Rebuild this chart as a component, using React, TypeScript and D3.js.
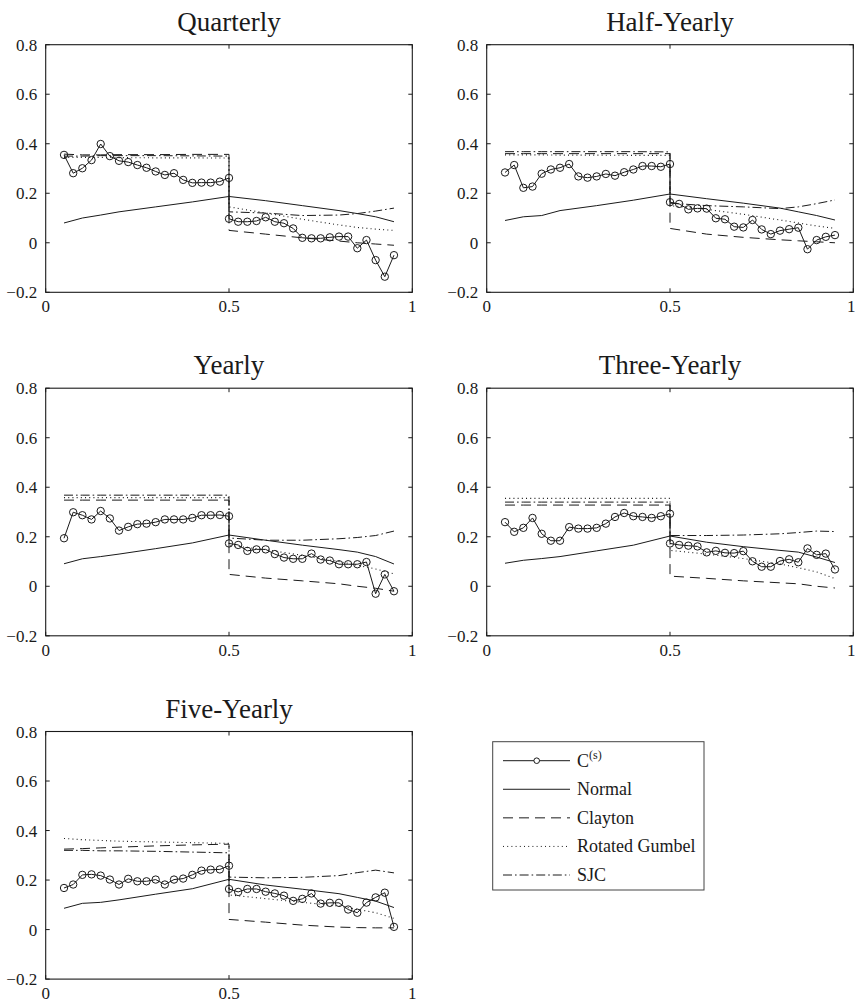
import React from 'react';
import * as d3 from 'd3';

// ---------- data ----------
const X_LEFT = [0.05, 0.075, 0.1, 0.125, 0.15, 0.175, 0.2, 0.225, 0.25, 0.275, 0.3, 0.325, 0.35, 0.375, 0.4, 0.425, 0.45, 0.475, 0.5];
const X_RIGHT = [0.5, 0.525, 0.55, 0.575, 0.6, 0.625, 0.65, 0.675, 0.7, 0.725, 0.75, 0.775, 0.8, 0.825, 0.85, 0.875, 0.9, 0.925, 0.95];
const X_KNOTS = [0.05, 0.1, 0.15, 0.2, 0.3, 0.4, 0.5, 0.5, 0.6, 0.7, 0.8, 0.85, 0.9, 0.95];

const X_TICKS = [0, 0.5, 1];
const X_TICK_LABELS = ['0', '0.5', '1'];
const Y_TICKS = [-0.2, 0, 0.2, 0.4, 0.6, 0.8];
const Y_TICK_LABELS = ['\u22120.2', '0', '0.2', '0.4', '0.6', '0.8'];

const PANEL_TITLES = ['Quarterly', 'Half-Yearly', 'Yearly', 'Three-Yearly', 'Five-Yearly'];
const LEGEND_LABELS = ['C', 'Normal', 'Clayton', 'Rotated Gumbel', 'SJC'];

// C(s) empirical values (left half then right half)
const CS_QUARTERLY_L = [0.355, 0.281, 0.301, 0.334, 0.399, 0.35, 0.331, 0.326, 0.314, 0.303, 0.288, 0.274, 0.281, 0.254, 0.242, 0.243, 0.243, 0.247, 0.262];
const CS_QUARTERLY_R = [0.097, 0.085, 0.085, 0.088, 0.103, 0.085, 0.079, 0.058, 0.02, 0.018, 0.018, 0.022, 0.025, 0.025, -0.022, 0.011, -0.07, -0.137, -0.05];
const CS_HALF_L = [0.284, 0.314, 0.222, 0.227, 0.279, 0.296, 0.303, 0.318, 0.268, 0.263, 0.268, 0.278, 0.271, 0.285, 0.296, 0.31, 0.31, 0.307, 0.318];
const CS_HALF_R = [0.164, 0.157, 0.135, 0.139, 0.138, 0.099, 0.095, 0.065, 0.062, 0.092, 0.054, 0.035, 0.049, 0.055, 0.061, -0.026, 0.011, 0.024, 0.031];
const CS_YEARLY_L = [0.194, 0.299, 0.287, 0.27, 0.304, 0.274, 0.225, 0.24, 0.251, 0.253, 0.259, 0.27, 0.27, 0.27, 0.276, 0.287, 0.287, 0.288, 0.283];
const CS_YEARLY_R = [0.173, 0.167, 0.143, 0.149, 0.149, 0.13, 0.116, 0.111, 0.111, 0.132, 0.108, 0.104, 0.089, 0.089, 0.089, 0.098, -0.03, 0.048, -0.02];
const CS_THREE_L = [0.259, 0.22, 0.236, 0.276, 0.212, 0.184, 0.184, 0.239, 0.233, 0.233, 0.236, 0.253, 0.28, 0.296, 0.283, 0.28, 0.276, 0.283, 0.293];
const CS_THREE_R = [0.173, 0.167, 0.164, 0.161, 0.137, 0.143, 0.135, 0.134, 0.142, 0.101, 0.079, 0.079, 0.102, 0.109, 0.097, 0.153, 0.127, 0.132, 0.068];
const CS_FIVE_L = [0.168, 0.182, 0.221, 0.223, 0.218, 0.202, 0.182, 0.205, 0.195, 0.195, 0.202, 0.182, 0.202, 0.206, 0.221, 0.238, 0.242, 0.243, 0.258];
const CS_FIVE_R = [0.164, 0.152, 0.164, 0.164, 0.153, 0.146, 0.137, 0.116, 0.124, 0.146, 0.105, 0.108, 0.108, 0.081, 0.068, 0.109, 0.13, 0.149, 0.011];

// Copula model curves, read at X_KNOTS
const NORMAL_QUARTERLY = [0.08, 0.1, 0.112, 0.125, 0.145, 0.165, 0.187, 0.187, 0.17, 0.15, 0.13, 0.118, 0.105, 0.085];
const CLAYTON_QUARTERLY = [0.358, 0.355, 0.355, 0.356, 0.356, 0.357, 0.357, 0.05, 0.035, 0.02, 0.007, 0.0, -0.005, -0.01];
const GUMBEL_QUARTERLY = [0.345, 0.345, 0.345, 0.344, 0.343, 0.343, 0.342, 0.145, 0.12, 0.095, 0.072, 0.062, 0.055, 0.05];
const SJC_QUARTERLY = [0.35, 0.35, 0.352, 0.352, 0.352, 0.351, 0.35, 0.125, 0.12, 0.11, 0.112, 0.118, 0.128, 0.14];

const NORMAL_HALF = [0.09, 0.105, 0.11, 0.13, 0.15, 0.172, 0.197, 0.197, 0.178, 0.16, 0.14, 0.125, 0.11, 0.092];
const CLAYTON_HALF = [0.36, 0.36, 0.36, 0.36, 0.36, 0.36, 0.36, 0.058, 0.035, 0.022, 0.012, 0.008, 0.004, 0.0];
const GUMBEL_HALF = [0.355, 0.355, 0.355, 0.354, 0.354, 0.353, 0.353, 0.15, 0.135, 0.115, 0.092, 0.08, 0.068, 0.058];
const SJC_HALF = [0.368, 0.368, 0.368, 0.368, 0.368, 0.368, 0.367, 0.16, 0.15, 0.145, 0.138, 0.145, 0.158, 0.173];

const NORMAL_YEARLY = [0.091, 0.111, 0.12, 0.13, 0.152, 0.175, 0.207, 0.207, 0.186, 0.166, 0.148, 0.138, 0.12, 0.09];
const CLAYTON_YEARLY = [0.348, 0.348, 0.348, 0.348, 0.348, 0.348, 0.348, 0.048, 0.033, 0.022, 0.01, 0.0, -0.008, -0.02];
const GUMBEL_YEARLY = [0.358, 0.358, 0.358, 0.358, 0.358, 0.358, 0.358, 0.165, 0.148, 0.125, 0.1, 0.085, 0.07, 0.05];
const SJC_YEARLY = [0.368, 0.368, 0.368, 0.368, 0.368, 0.368, 0.368, 0.195, 0.186, 0.186, 0.192, 0.197, 0.205, 0.223];

const NORMAL_THREE = [0.093, 0.105, 0.112, 0.12, 0.143, 0.166, 0.203, 0.203, 0.178, 0.16, 0.145, 0.138, 0.118, 0.096];
const CLAYTON_THREE = [0.328, 0.328, 0.328, 0.328, 0.328, 0.328, 0.328, 0.041, 0.032, 0.022, 0.014, 0.01, 0.0, -0.007];
const GUMBEL_THREE = [0.355, 0.355, 0.355, 0.355, 0.355, 0.355, 0.355, 0.145, 0.13, 0.112, 0.09, 0.075, 0.058, 0.031];
const SJC_THREE = [0.34, 0.34, 0.34, 0.34, 0.34, 0.34, 0.34, 0.205, 0.205, 0.207, 0.212, 0.217, 0.223, 0.221];

const NORMAL_FIVE = [0.086, 0.106, 0.11, 0.12, 0.143, 0.165, 0.203, 0.203, 0.18, 0.163, 0.145, 0.13, 0.115, 0.089];
const CLAYTON_FIVE = [0.325, 0.327, 0.33, 0.333, 0.338, 0.342, 0.345, 0.041, 0.03, 0.018, 0.01, 0.008, 0.007, 0.007];
const GUMBEL_FIVE = [0.368, 0.363, 0.36, 0.357, 0.354, 0.351, 0.348, 0.14, 0.125, 0.11, 0.095, 0.082, 0.068, 0.045];
const SJC_FIVE = [0.32, 0.32, 0.318, 0.318, 0.316, 0.313, 0.31, 0.212, 0.209, 0.211, 0.218, 0.23, 0.24, 0.229];

// ---------- assembly ----------
const PANELS = [
  { title: PANEL_TITLES[0], col: 0, row: 0, csL: CS_QUARTERLY_L, csR: CS_QUARTERLY_R, normal: NORMAL_QUARTERLY, clayton: CLAYTON_QUARTERLY, gumbel: GUMBEL_QUARTERLY, sjc: SJC_QUARTERLY },
  { title: PANEL_TITLES[1], col: 1, row: 0, csL: CS_HALF_L, csR: CS_HALF_R, normal: NORMAL_HALF, clayton: CLAYTON_HALF, gumbel: GUMBEL_HALF, sjc: SJC_HALF },
  { title: PANEL_TITLES[2], col: 0, row: 1, csL: CS_YEARLY_L, csR: CS_YEARLY_R, normal: NORMAL_YEARLY, clayton: CLAYTON_YEARLY, gumbel: GUMBEL_YEARLY, sjc: SJC_YEARLY },
  { title: PANEL_TITLES[3], col: 1, row: 1, csL: CS_THREE_L, csR: CS_THREE_R, normal: NORMAL_THREE, clayton: CLAYTON_THREE, gumbel: GUMBEL_THREE, sjc: SJC_THREE },
  { title: PANEL_TITLES[4], col: 0, row: 2, csL: CS_FIVE_L, csR: CS_FIVE_R, normal: NORMAL_FIVE, clayton: CLAYTON_FIVE, gumbel: GUMBEL_FIVE, sjc: SJC_FIVE },
];

const COL_X = [45.7, 486.7];
const ROW_Y = [44.7, 388.2, 731.5];
const PW = 366.6;
const PH = 247.6;
const INK = '#1a1a1a';
const FONT = "'Liberation Serif', 'Times New Roman', Times, serif";
const W = 856;
const H = 1002;

const STYLES = {
  normal: { dash: undefined as string | undefined },
  clayton: { dash: '10,6' },
  gumbel: { dash: '1,3.2' },
  sjc: { dash: '9,3,1.6,3' },
};

function Panel({ p }: { p: typeof PANELS[number] }) {
  const x0 = COL_X[p.col];
  const y0 = ROW_Y[p.row];
  const x = d3.scaleLinear().domain([0, 1]).range([x0, x0 + PW]);
  const y = d3.scaleLinear().domain([-0.2, 0.8]).range([y0 + PH, y0]);
  const line = d3.line<[number, number]>().x((d) => x(d[0])).y((d) => y(d[1]));

  const csPts: [number, number][] = [
    ...X_LEFT.map((xv, i) => [xv, p.csL[i]] as [number, number]),
    ...X_RIGHT.map((xv, i) => [xv, p.csR[i]] as [number, number]),
  ];
  const knotPts = (vals: number[]) => X_KNOTS.map((xv, i) => [xv, vals[i]] as [number, number]);
  const tl = 4;

  return (
    <g>
      <text x={(x(0) + x(1)) / 2} y={y0 - 14} textAnchor="middle" style={{ fontFamily: FONT, fontSize: 27 }} fill={INK}>
        {p.title}
      </text>
      {/* model curves */}
      <path d={line(knotPts(p.clayton)) || ''} fill="none" stroke={INK} strokeWidth={1} strokeDasharray={STYLES.clayton.dash} />
      <path d={line(knotPts(p.gumbel)) || ''} fill="none" stroke={INK} strokeWidth={1.1} strokeDasharray={STYLES.gumbel.dash} />
      <path d={line(knotPts(p.sjc)) || ''} fill="none" stroke={INK} strokeWidth={1} strokeDasharray={STYLES.sjc.dash} />
      <path d={line(knotPts(p.normal)) || ''} fill="none" stroke={INK} strokeWidth={1} />
      {/* empirical */}
      <path d={line(csPts) || ''} fill="none" stroke={INK} strokeWidth={1} />
      {csPts.map((d, i) => (
        <circle key={i} cx={x(d[0])} cy={y(d[1])} r={3.7} fill="none" stroke={INK} strokeWidth={1} />
      ))}
      {/* frame */}
      <rect x={x(0)} y={y(0.8)} width={x(1) - x(0)} height={y(-0.2) - y(0.8)} fill="none" stroke={INK} strokeWidth={1.1} />
      {X_TICKS.map((t, i) => {
        const overflow = x(t) + 5 > W;
        return (
          <g key={'xt' + i}>
            <line x1={x(t)} x2={x(t)} y1={y(-0.2)} y2={y(-0.2) - tl} stroke={INK} strokeWidth={1} />
            <line x1={x(t)} x2={x(t)} y1={y(0.8)} y2={y(0.8) + tl} stroke={INK} strokeWidth={1} />
            <text
              x={overflow ? W - 0.5 : x(t)}
              y={y(-0.2) + 20}
              textAnchor={overflow ? 'end' : 'middle'}
              style={{ fontFamily: FONT, fontSize: 17 }}
              fill={INK}
            >
              {X_TICK_LABELS[i]}
            </text>
          </g>
        );
      })}
      {Y_TICKS.map((t, i) => (
        <g key={'yt' + i}>
          <line x1={x(0)} x2={x(0) + tl} y1={y(t)} y2={y(t)} stroke={INK} strokeWidth={1} />
          <line x1={x(1)} x2={x(1) - tl} y1={y(t)} y2={y(t)} stroke={INK} strokeWidth={1} />
          <text x={x(0) - 8.5} y={y(t) + 6} textAnchor="end" style={{ fontFamily: FONT, fontSize: 17 }} fill={INK}>
            {Y_TICK_LABELS[i]}
          </text>
        </g>
      ))}
    </g>
  );
}

function Legend() {
  const bx = 492.7, by = 741.7, bw = 211.3, bh = 148.3;
  const rowY = d3.scaleLinear().domain([0, 4]).range([760.7, 875]);
  const dashes = [undefined, undefined, STYLES.clayton.dash, STYLES.gumbel.dash, STYLES.sjc.dash];
  return (
    <g>
      <rect x={bx} y={by} width={bw} height={bh} fill="#fff" stroke="#444" strokeWidth={1} />
      {LEGEND_LABELS.map((lab, i) => (
        <g key={i}>
          <line x1={503} x2={570} y1={rowY(i)} y2={rowY(i)} stroke={INK} strokeWidth={1} strokeDasharray={dashes[i]} />
          {i === 0 && <circle cx={536.7} cy={rowY(i)} r={2.8} fill="#fff" stroke={INK} strokeWidth={1} />}
          <text x={577} y={rowY(i) + 6} style={{ fontFamily: FONT, fontSize: 18 }} fill={INK}>
            {lab}
            {i === 0 && (
              <tspan style={{ fontSize: 12 }} dy={-8}>
                (s)
              </tspan>
            )}
          </text>
        </g>
      ))}
    </g>
  );
}

export default function App() {
  return (
    <svg
      width={W}
      height={H}
      viewBox={`0 0 ${W} ${H}`}
      style={{ position: 'absolute', left: 0, top: 0, background: '#fff' }}
    >
      <rect x={0} y={0} width={W} height={H} fill="#fff" />
      {PANELS.map((p, i) => (
        <Panel key={i} p={p} />
      ))}
      <Legend />
    </svg>
  );
}
